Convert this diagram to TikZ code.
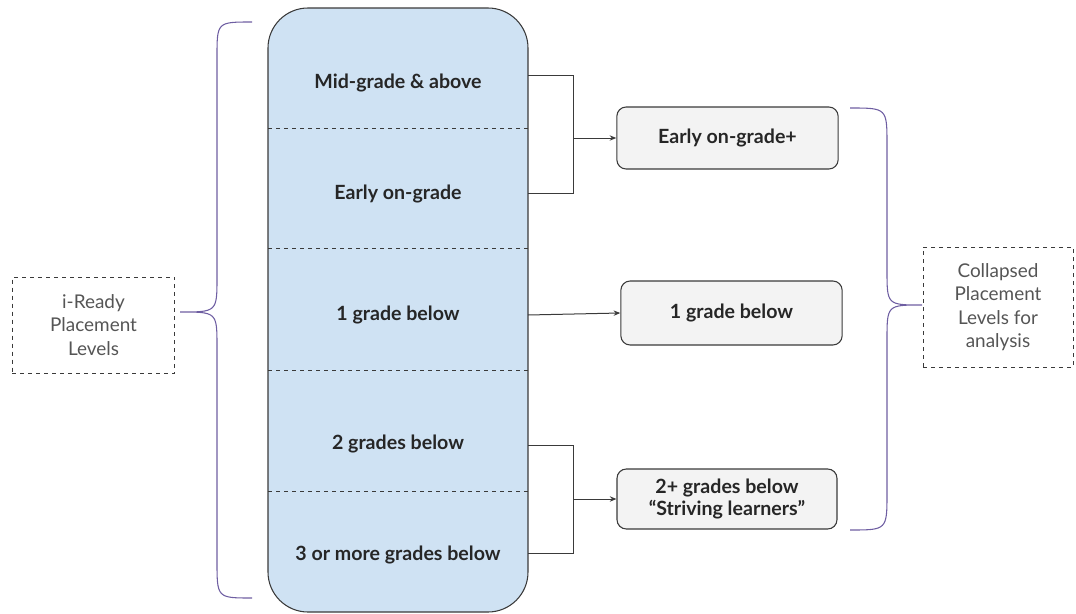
\documentclass[tikz,border=0pt]{standalone}
\usepackage{fontspec}
\setmainfont{Lato}
\usetikzlibrary{arrows.meta}
\definecolor{colblue}{HTML}{CFE2F3}
\definecolor{boxgray}{HTML}{F3F3F3}
\definecolor{linegray}{HTML}{3A3A3A}
\definecolor{bracepurple}{HTML}{6E5EA2}
\definecolor{labelgray}{HTML}{555555}

\begin{document}
\begin{tikzpicture}[x=0.75pt, y=-0.75pt,
    level/.style={font=\bfseries\fontsize{14.7}{17}\selectfont, text=black!85},
    outbox/.style={draw=linegray, fill=boxgray, line width=0.8pt, rounded corners=7pt,
      align=center, font=\bfseries\fontsize{14.7}{17}\selectfont, text=black!85},
    sidelabel/.style={draw=linegray, dashed, line width=0.6pt, align=center,
      text=labelgray, font=\fontsize{14.2}{17.6}\selectfont, inner sep=0pt},
    conn/.style={draw=linegray, line width=0.75pt},
    brace/.style={draw=bracepurple, line width=0.8pt},
    divider/.style={draw=linegray, dashed, line width=0.6pt}]
      \useasboundingbox (0,0) rectangle (1076,614);

      % Column with the i-Ready placement levels
      \draw[fill=colblue, draw=linegray, line width=0.8pt, rounded corners=30pt]
        (268,8) rectangle (528,612);
      \foreach \yy in {128,248,370,491} {
          \draw[divider] (268,\yy) -- (528,\yy);
      }

      % Level names
      \node[level] (mid)   at (398,83)  {Mid-grade \& above};
      \node[level] (early) at (398,194) {Early on-grade};
      \node[level] (one)   at (398,315) {1 grade below};
      \node[level] (two)   at (398,444) {2 grades below};
      \node[level] (three) at (398,555) {3 or more grades below};

      % Collapsed levels
      \node[outbox, minimum width=166pt, minimum height=46.5pt] (ongrade) at (727.5,138) {Early on-grade+};
      \node[outbox, minimum width=166pt, minimum height=48pt] (onebelow) at (731.5,313) {1 grade below};
      \node[outbox, minimum width=165pt, minimum height=45pt] (striving) at (727,499)
        {2+ grades below\\“Striving learners”};

      % Side labels
      \node[sidelabel, minimum width=122pt, minimum height=72pt] (ireadylab) at (93.5,325)
        {i-Ready\\Placement\\Levels};
      \node[sidelabel, minimum width=112.5pt, minimum height=90pt] (collapsedlab) at (998,307)
        {Collapsed\\Placement\\Levels for\\analysis};

      % Join points of the connectors and brace tips
      \coordinate (midR)   at (528,75);
      \coordinate (earlyR) at (528,193);
      \coordinate (twoR)   at (528,445);
      \coordinate (threeR) at (528,553);
      \coordinate (joinA)  at (573,138);
      \coordinate (joinB)  at (573,499);
      \coordinate (tipL)   at (180,312);
      \coordinate (tipR)   at (922,305);

      % Connectors
      \draw[conn] (midR) -- (midR -| joinA) -- (earlyR -| joinA) -- (earlyR);
      \draw[conn, -{Stealth[length=5pt, width=4pt]}] (joinA) -- (ongrade.west);
      \draw[conn, -{Stealth[length=5pt, width=4pt]}] (one.east -| midR) -- (onebelow.west);
      \draw[conn] (twoR) -- (twoR -| joinB) -- (threeR -| joinB) -- (threeR);
      \draw[conn, -{Stealth[length=5pt, width=4pt]}] (joinB) -- (striving.west);

      % Braces
      \draw[brace] (252,22) .. controls (217,22) .. (217,57) -- (217,277)
        .. controls (217,312) .. (tipL) .. controls (217,312) .. (217,347)
        -- (217,561) .. controls (217,598) .. (252,598);
      \draw[brace] (850,108) .. controls (887,108) .. (887,145) -- (887,270)
        .. controls (887,305) .. (tipR) .. controls (887,305) .. (887,340)
        -- (887,493) .. controls (887,530) .. (850,530);
\end{tikzpicture}
\end{document}
